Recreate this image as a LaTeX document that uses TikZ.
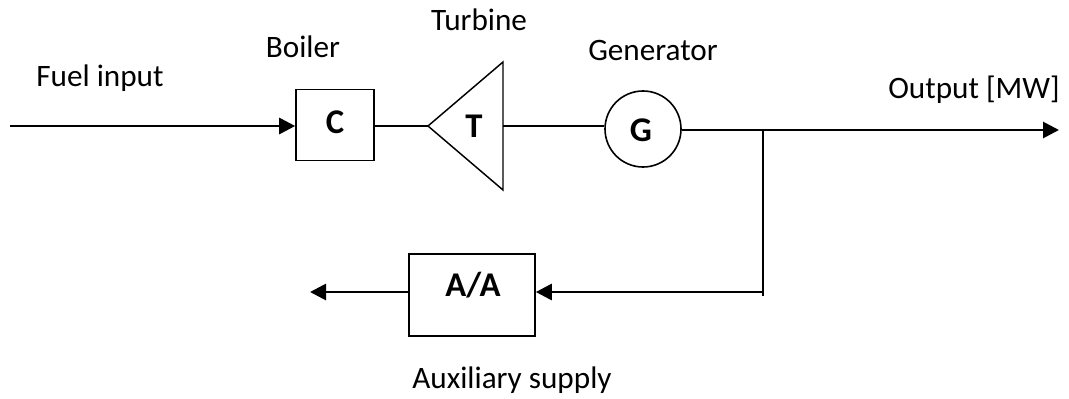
\documentclass[tikz,border=0pt]{standalone}
\usepackage{fontspec}
\setmainfont{Carlito}
\usetikzlibrary{arrows.meta}
\tikzset{
  blockbox/.style={draw=black,line width=1.2pt,inner sep=0pt},
  txt/.style={inner sep=0pt,font=\fontsize{23.4}{25}\selectfont},
  tag/.style={inner sep=0pt,font=\fontsize{26}{28}\selectfont\bfseries},
  thin line/.style={black,line width=1.1pt},
  thick line/.style={black,line width=2.1pt},
  head/.style={-{Triangle[length=12pt,width=12pt]}}
}
\begin{document}
\begin{tikzpicture}[x=0.75pt,y=-0.75pt]
\useasboundingbox (0,0) rectangle (1069,399);
% blocks
\node [blockbox,minimum width=58.5pt,minimum height=53pt] (boiler) at (335,125) {};
\node [tag] (c) at (335,122) {C};
\node [blockbox,circle,minimum size=57pt] (gen) at (643,129) {};
\node [tag] (g) at (641,130) {G};
\node [blockbox,minimum width=94.5pt,minimum height=61.5pt] (aux) at (472,295) {};
\node [tag] (a) at (473,285) {A/A};
\coordinate (tapex) at (428,126);
\coordinate (ttop) at (503,62);
\coordinate (tbot) at (503,190);
\coordinate (tback) at (503,126);
\draw [thin line,line join=miter] (tapex) -- (ttop) -- (tbot) -- cycle;
\node [tag] (t) at (474,126) {T};
% labels
\node [txt] (fuel) at (100,78) {Fuel input};
\node [txt] (boil) at (303,47) {Boiler};
\node [txt] (turb) at (479,20) {Turbine};
\node [txt] (gent) at (653,50) {Generator};
\node [txt] (out) at (974,90) {Output [MW]};
\node [txt] (sup) at (512,380) {Auxiliary supply};
% connectors
\coordinate (start) at (10,126);
\coordinate (mid) at (147,126);
\coordinate (end) at (1059,130);
\coordinate (tee) at (763,130);
\coordinate (corner) at (763,296);
\coordinate (back) at (763,292);
\coordinate (left) at (310,292);
\draw [thin line] (start) -- (mid);
\draw [thick line,head] (mid) -- (boiler.west |- mid);
\draw [thin line] (boiler.east |- tapex) -- (tapex);
\draw [thin line] (tback) -- (gen.west |- tback);
\draw [thick line,head] (gen.east |- end) -- (end);
\draw [thin line] (tee) -- (corner);
\draw [thick line,head] (back) -- (aux.east |- back);
\draw [thick line,head] (aux.west |- left) -- (left);
\end{tikzpicture}
\end{document}
